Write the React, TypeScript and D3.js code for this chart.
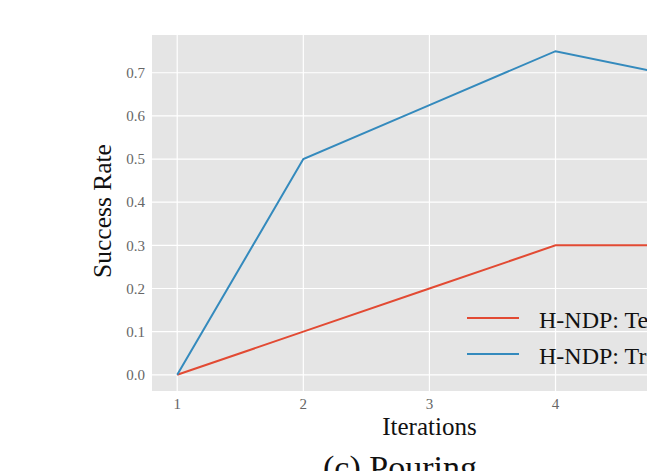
import React from "react";
import * as d3 from "d3";

const iterations = [1, 2, 3, 4, 5];
const testRate = [0.0, 0.1, 0.2, 0.3, 0.3];
const trainRate = [0.0, 0.5, 0.625, 0.75, 0.69];
const yTicks = [0.0, 0.1, 0.2, 0.3, 0.4, 0.5, 0.6, 0.7];
const xTicks = [1, 2, 3, 4, 5];
const seriesNames = ["H-NDP: Test", "H-NDP: Train"];

const W = 647;
const H = 471;
const left = 152;
const top = 35;
const bottom = 391;
const FONT = "'Liberation Serif', 'Times New Roman', serif";

export default function App() {
  const x = d3.scaleLinear().domain([0.8, 5.2]).range([left, left + 4.4 * 126.1]);
  const y = d3.scaleLinear().domain([-0.0375, 0.7875]).range([bottom, top]);
  const line = d3
    .line<[number, number]>()
    .x((d) => x(d[0]))
    .y((d) => y(d[1]));
  const series = [
    { name: seriesNames[0], color: "#E24A33", values: testRate },
    { name: seriesNames[1], color: "#348ABD", values: trainRate },
  ];
  const right = x(5.2);
  return (
    <svg width={W} height={H} style={{ position: "absolute", left: 0, top: 0, background: "#fff" }}>
      <rect x={left} y={top} width={right - left} height={bottom - top} fill="#E5E5E5" />
      {yTicks.map((t) => (
        <line key={"gy" + t} x1={left} x2={right} y1={y(t)} y2={y(t)} stroke="#fff" strokeWidth={1.2} />
      ))}
      {xTicks.map((t) => (
        <line key={"gx" + t} x1={x(t)} x2={x(t)} y1={top} y2={bottom} stroke="#fff" strokeWidth={1.2} />
      ))}
      {series.map((s) => (
        <path
          key={s.name}
          d={line(iterations.map((it, i) => [it, s.values[i]]) as [number, number][]) || ""}
          fill="none"
          stroke={s.color}
          strokeWidth={2}
        />
      ))}
      {yTicks.map((t) => (
        <text key={"ty" + t} x={left - 7} y={y(t)} dy="0.35em" textAnchor="end" fontFamily={FONT} fontSize={15} fill="#666">
          {t.toFixed(1)}
        </text>
      ))}
      {xTicks.map((t) => (
        <text key={"tx" + t} x={x(t)} y={bottom + 18} textAnchor="middle" fontFamily={FONT} fontSize={15} fill="#666">
          {t}
        </text>
      ))}
      <text x={x(3)} y={435} textAnchor="middle" fontFamily={FONT} fontSize={25} fill="#111">
        Iterations
      </text>
      <text
        transform={`translate(${111},${211}) rotate(-90)`}
        textAnchor="middle"
        fontFamily={FONT}
        fontSize={25.5}
        fill="#111"
      >
        Success Rate
      </text>
      <text x={400} y={479} textAnchor="middle" fontFamily={FONT} fontSize={34} fill="#111">
        (c) Pouring
      </text>
      {series.map((s, i) => (
        <g key={"lg" + s.name} transform={`translate(467,${318 + i * 36})`}>
          <line x1={0} x2={52} y1={0} y2={0} stroke={s.color} strokeWidth={2} />
          <text x={72} y={10} fontFamily={FONT} fontSize={24} fill="#111">
            {s.name}
          </text>
        </g>
      ))}
    </svg>
  );
}
